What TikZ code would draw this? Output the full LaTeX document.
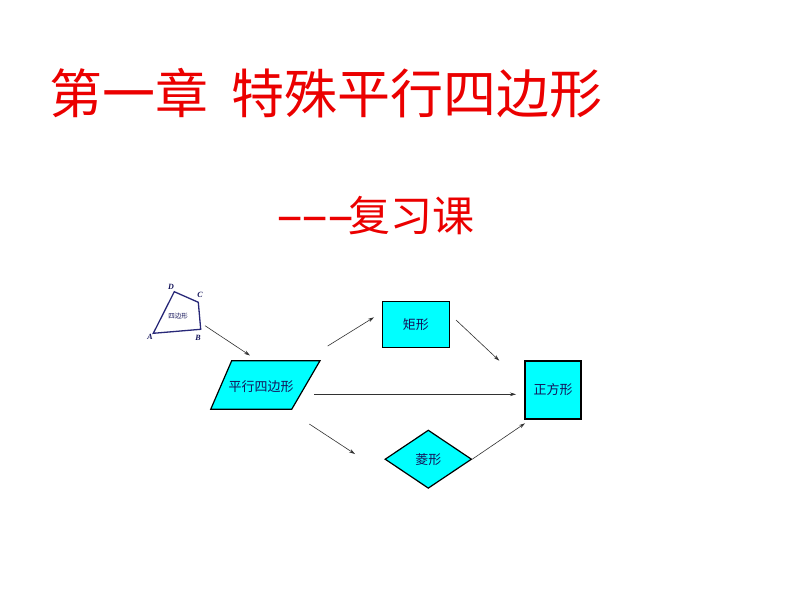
\documentclass[tikz,border=0pt]{standalone}
\usepackage{fontspec}
\setmainfont{Liberation Serif}
\newfontfamily\cjk{Noto Sans CJK SC}
\usetikzlibrary{shapes.geometric,arrows.meta}
\definecolor{titlered}{RGB}{235,0,0}
\definecolor{shapecyan}{RGB}{0,255,255}
\definecolor{navytext}{RGB}{20,20,90}
\definecolor{quadline}{RGB}{40,40,120}
\definecolor{arrowgray}{RGB}{50,50,50}
\newcommand{\widedash}{\raisebox{-1pt}{\scalebox{2.0}[1.15]{-}}}
\tikzset{
  titletext/.style={anchor=west, text=titlered, inner sep=0pt},
  shapebox/.style={draw=black, fill=shapecyan, line width=1.2pt, inner sep=0pt,
     font=\cjk\fontsize{13}{13}\selectfont, text=navytext},
  shapelabel/.style={inner sep=0pt, font=\cjk\fontsize{13}{13}\selectfont, text=navytext},
  ptlabel/.style={inner sep=0pt, font=\bfseries\itshape\fontsize{8}{8}\selectfont, text=navytext},
  conn/.style={draw=arrowgray, line width=0.6pt, -{Stealth[length=6pt,width=3.6pt]}},
}
\begin{document}
\begin{tikzpicture}[x=1pt,y=-1pt]
\useasboundingbox (0,0) rectangle (794,596);
\fill[white] (0,0) rectangle (794,596);
% titles
\node[titletext, font=\cjk\fontsize{53}{53}\selectfont] (title) at (49,93) {第一章\hspace{23pt}特殊平行四边形};
\node[titletext, font=\cjk\fontsize{42}{42}\selectfont] (sub) at (275,216) {\widedash\kern-3.5pt\widedash\kern-3.5pt\widedash\kern-7pt 复习课};
% quadrilateral
\coordinate (A) at (153.3,333.3);
\coordinate (B) at (200.7,329.3);
\coordinate (C) at (198.3,302.3);
\coordinate (D) at (174.3,291.7);
\draw[quadline, line width=1.3pt] (A) -- (B) -- (C) -- (D) -- cycle;
\node[ptlabel] (lA) at (150,337) {A};
\node[ptlabel] (lB) at (198,337.5) {B};
\node[ptlabel] (lC) at (200,295) {C};
\node[ptlabel] (lD) at (171,286.5) {D};
\node[inner sep=0pt, font=\cjk\fontsize{6.5}{6.5}\selectfont, text=navytext] (qtext) at (178,316.5) {四边形};
% parallelogram
\filldraw[draw=black, fill=shapecyan, line width=1.2pt] (231.7,360.7) -- (320,360.7) -- (291.7,409.3) -- (210.7,409.3) -- cycle;
\node[shapelabel] (para) at (261,386.5) {平行四边形};
% rectangle, square, rhombus
\node[shapebox, minimum width=67pt, minimum height=45.6pt] (rect) at (415.8,324.5) {矩形};
\node[shapebox, minimum width=56pt, minimum height=58pt] (sq) at (553,390) {正方形};
\node[shapebox, diamond, minimum width=86.7pt, minimum height=58.3pt] (rh) at (428.3,459.2) {菱形};
% connector ends
\coordinate (q0) at (205,325.7);
\coordinate (p0) at (250,355.5);
\coordinate (p1) at (327.7,346);
\coordinate (r1) at (374,317.3);
\coordinate (r2) at (456,320);
\coordinate (s2) at (499.3,360.7);
\coordinate (p3) at (314.3,394.3);
\coordinate (s3) at (516,394.3);
\coordinate (p4) at (309.3,424);
\coordinate (h4) at (355,454);
\coordinate (s5) at (525,423.3);
\draw[conn] (q0) -- (p0);
\draw[conn] (p1) -- (r1);
\draw[conn] (r2) -- (s2);
\draw[conn] (p3) -- (s3);
\draw[conn] (p4) -- (h4);
\draw[conn] (rh.east) -- (s5);
\end{tikzpicture}
\end{document}
